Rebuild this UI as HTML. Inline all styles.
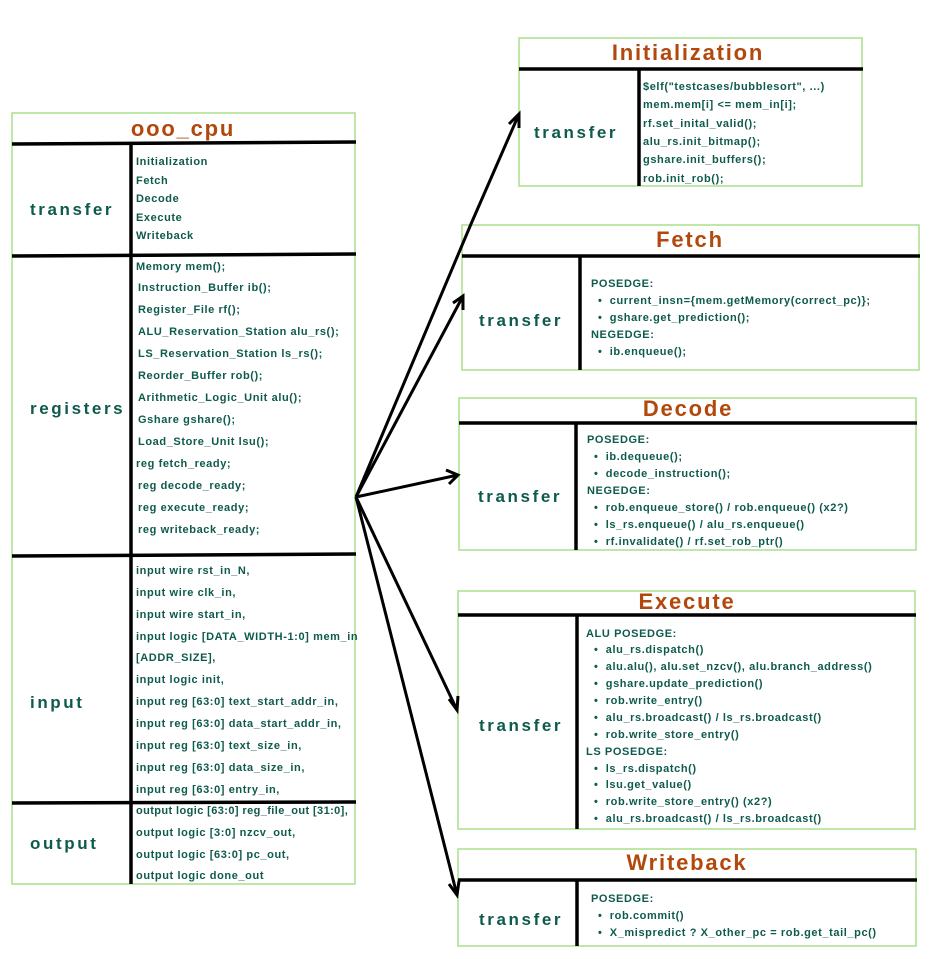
<!DOCTYPE html>
<html><head><meta charset="utf-8"><style>
html,body{margin:0;padding:0;background:#fff;}
svg{display:block;}
text{font-family:"Liberation Sans",sans-serif;font-weight:bold;fill:#0e5a4c;}
.t{font-size:11px;letter-spacing:0.6px;}
.l{font-size:17px;letter-spacing:2.6px;}
.h{font-size:22px;fill:#b2480c;letter-spacing:1.8px;}
.b{fill:#fff;stroke:#a8df8c;stroke-width:1.5;}
.k{stroke:#000;stroke-width:3.5;}
.a{stroke:#000;stroke-width:3;fill:none;}
</style></head><body>
<svg width="934" height="959" viewBox="0 0 934 959" xmlns="http://www.w3.org/2000/svg">
<rect class="b" x="12" y="113" width="343" height="771"/>
<text class="h" x="183" y="136" text-anchor="middle">ooo_cpu</text>
<line class="k" x1="12" y1="144" x2="356" y2="142"/>
<line class="k" x1="12" y1="256" x2="356" y2="254"/>
<line class="k" x1="12" y1="556" x2="356" y2="554"/>
<line class="k" x1="12" y1="803" x2="356" y2="802"/>
<line class="k" x1="131" y1="144" x2="131" y2="884"/>
<text class="l" x="30" y="215">transfer</text>
<text class="l" x="30" y="414">registers</text>
<text class="l" x="30" y="708">input</text>
<text class="l" x="30" y="849">output</text>
<g class="t">
<text x="136" y="165">Initialization</text>
<text x="136" y="184">Fetch</text>
<text x="136" y="202">Decode</text>
<text x="136" y="221">Execute</text>
<text x="136" y="239">Writeback</text>
<text x="136" y="270">Memory mem();</text>
<text x="138" y="291">Instruction_Buffer ib();</text>
<text x="138" y="313">Register_File rf();</text>
<text x="138" y="335">ALU_Reservation_Station alu_rs();</text>
<text x="138" y="357">LS_Reservation_Station ls_rs();</text>
<text x="138" y="379">Reorder_Buffer rob();</text>
<text x="138" y="401">Arithmetic_Logic_Unit alu();</text>
<text x="138" y="423">Gshare gshare();</text>
<text x="138" y="445">Load_Store_Unit lsu();</text>
<text x="136" y="467">reg fetch_ready;</text>
<text x="138" y="489">reg decode_ready;</text>
<text x="138" y="511">reg execute_ready;</text>
<text x="138" y="533">reg writeback_ready;</text>
<text x="136" y="574">input wire rst_in_N,</text>
<text x="136" y="596">input wire clk_in,</text>
<text x="136" y="618">input wire start_in,</text>
<text x="136" y="640">input logic [DATA_WIDTH-1:0] mem_in</text>
<text x="136" y="661">[ADDR_SIZE],</text>
<text x="136" y="683">input logic init,</text>
<text x="136" y="705">input reg [63:0] text_start_addr_in,</text>
<text x="136" y="727">input reg [63:0] data_start_addr_in,</text>
<text x="136" y="749">input reg [63:0] text_size_in,</text>
<text x="136" y="771">input reg [63:0] data_size_in,</text>
<text x="136" y="793">input reg [63:0] entry_in,</text>
<text x="136" y="814" style="letter-spacing:0.4px">output logic [63:0] reg_file_out [31:0],</text>
<text x="136" y="836">output logic [3:0] nzcv_out,</text>
<text x="136" y="858">output logic [63:0] pc_out,</text>
<text x="136" y="879">output logic done_out</text>
</g>

<rect class="b" x="519" y="38" width="343" height="148"/>
<text class="h" x="688" y="60" text-anchor="middle">Initialization</text>
<line class="k" x1="519" y1="69" x2="863" y2="69"/>
<line class="k" x1="639" y1="69" x2="639" y2="186"/>
<text class="l" x="534" y="138">transfer</text>
<g class="t">
<text x="643" y="90">$elf("testcases/bubblesort", ...)</text>
<text x="643" y="108">mem.mem[i] &lt;= mem_in[i];</text>
<text x="643" y="127">rf.set_inital_valid();</text>
<text x="643" y="145">alu_rs.init_bitmap();</text>
<text x="643" y="163">gshare.init_buffers();</text>
<text x="643" y="182">rob.init_rob();</text>
</g>

<rect class="b" x="462" y="225" width="457" height="145"/>
<text class="h" x="690" y="247" text-anchor="middle">Fetch</text>
<line class="k" x1="462" y1="256" x2="920" y2="256"/>
<line class="k" x1="580" y1="256" x2="580" y2="370"/>
<text class="l" x="479" y="326">transfer</text>
<g class="t">
<text x="591" y="287">POSEDGE:</text>
<text x="598" y="304">•&#160;&#160;current_insn={mem.getMemory(correct_pc)};</text>
<text x="598" y="321">•&#160;&#160;gshare.get_prediction();</text>
<text x="591" y="338">NEGEDGE:</text>
<text x="598" y="355">•&#160;&#160;ib.enqueue();</text>
</g>

<rect class="b" x="459" y="398" width="457" height="152"/>
<text class="h" x="688" y="416" text-anchor="middle">Decode</text>
<line class="k" x1="459" y1="423" x2="917" y2="423"/>
<line class="k" x1="576" y1="423" x2="576" y2="550"/>
<text class="l" x="478" y="502">transfer</text>
<g class="t">
<text x="587" y="443">POSEDGE:</text>
<text x="594" y="460">•&#160;&#160;ib.dequeue();</text>
<text x="594" y="477">•&#160;&#160;decode_instruction();</text>
<text x="587" y="494">NEGEDGE:</text>
<text x="594" y="511">•&#160;&#160;rob.enqueue_store() / rob.enqueue() (x2?)</text>
<text x="594" y="528">•&#160;&#160;ls_rs.enqueue() / alu_rs.enqueue()</text>
<text x="594" y="545">•&#160;&#160;rf.invalidate() / rf.set_rob_ptr()</text>
</g>

<rect class="b" x="458" y="591" width="457" height="238"/>
<text class="h" x="687" y="609" text-anchor="middle">Execute</text>
<line class="k" x1="458" y1="615" x2="916" y2="615"/>
<line class="k" x1="577" y1="615" x2="577" y2="829"/>
<text class="l" x="479" y="731">transfer</text>
<g class="t">
<text x="586" y="637">ALU POSEDGE:</text>
<text x="594" y="653">•&#160;&#160;alu_rs.dispatch()</text>
<text x="594" y="670">•&#160;&#160;alu.alu(), alu.set_nzcv(), alu.branch_address()</text>
<text x="594" y="687">•&#160;&#160;gshare.update_prediction()</text>
<text x="594" y="704">•&#160;&#160;rob.write_entry()</text>
<text x="594" y="721">•&#160;&#160;alu_rs.broadcast() / ls_rs.broadcast()</text>
<text x="594" y="738">•&#160;&#160;rob.write_store_entry()</text>
<text x="586" y="755">LS POSEDGE:</text>
<text x="594" y="772">•&#160;&#160;ls_rs.dispatch()</text>
<text x="594" y="788">•&#160;&#160;lsu.get_value()</text>
<text x="594" y="805">•&#160;&#160;rob.write_store_entry() (x2?)</text>
<text x="594" y="822">•&#160;&#160;alu_rs.broadcast() / ls_rs.broadcast()</text>
</g>

<rect class="b" x="458" y="849" width="458" height="97"/>
<text class="h" x="687" y="870" text-anchor="middle">Writeback</text>
<line class="k" x1="458" y1="880" x2="917" y2="880"/>
<line class="k" x1="577" y1="880" x2="577" y2="946"/>
<text class="l" x="479" y="925">transfer</text>
<g class="t">
<text x="591" y="902">POSEDGE:</text>
<text x="598" y="919">•&#160;&#160;rob.commit()</text>
<text x="598" y="936">•&#160;&#160;X_mispredict ? X_other_pc = rob.get_tail_pc()</text>
</g>

<g class="a">
<path d="M356,497 L471,224 L519,114"/>
<path d="M509,124 L519,114 L519,128"/>
<path d="M356,497 L463,296"/>
<path d="M453,303 L463,296 L463,310"/>
<path d="M356,497 L458,475"/>
<path d="M446,470 L458,475 L449,484"/>
<path d="M356,497 L457,710"/>
<path d="M449,699 L457,710 L458,696"/>
<path d="M356,497 L457,895"/>
<path d="M449,884 L457,895 L459,881"/>
</g>
</svg>
</body></html>
